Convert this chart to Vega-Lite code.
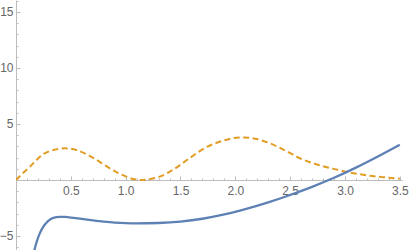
{
  "$schema": "https://vega.github.io/schema/vega-lite/v6.json",
  "autosize": {"type": "none"},
  "padding": {"left": 16, "top": 0, "right": 8, "bottom": 0},
  "width": 386,
  "height": 250,
  "background": "white",
  "config": {"view": {"stroke": null}},
  "datasets": {
    "blue": [
      {"x": 0.16, "y": -6.6}, {"x": 0.18, "y": -5.8}, {"x": 0.20, "y": -5.18}, {"x": 0.22, "y": -4.70},
      {"x": 0.24, "y": -4.32}, {"x": 0.26, "y": -4.02}, {"x": 0.28, "y": -3.79}, {"x": 0.30, "y": -3.61},
      {"x": 0.33, "y": -3.42}, {"x": 0.37, "y": -3.31}, {"x": 0.40, "y": -3.29}, {"x": 0.45, "y": -3.30},
      {"x": 0.5, "y": -3.35}, {"x": 0.6, "y": -3.48}, {"x": 0.7, "y": -3.60}, {"x": 0.8, "y": -3.71},
      {"x": 0.9, "y": -3.80}, {"x": 1.0, "y": -3.855}, {"x": 1.1, "y": -3.88}, {"x": 1.3, "y": -3.84},
      {"x": 1.5, "y": -3.71}, {"x": 1.7, "y": -3.46}, {"x": 1.9, "y": -3.08}, {"x": 2.1, "y": -2.58},
      {"x": 2.3, "y": -2.0}, {"x": 2.5, "y": -1.34}, {"x": 2.7, "y": -0.615}, {"x": 2.9, "y": 0.195},
      {"x": 3.1, "y": 1.105}, {"x": 3.3, "y": 2.10}, {"x": 3.5, "y": 3.15}
    ],
    "orange": [
      {"x": 0.0, "y": 0.0}, {"x": 0.067, "y": 0.65}, {"x": 0.127, "y": 1.19}, {"x": 0.25, "y": 2.32},
      {"x": 0.35, "y": 2.7}, {"x": 0.445, "y": 2.83}, {"x": 0.55, "y": 2.68}, {"x": 0.70, "y": 2.0},
      {"x": 0.855, "y": 1.04}, {"x": 1.006, "y": 0.3}, {"x": 1.08, "y": 0.06}, {"x": 1.15, "y": 0.0},
      {"x": 1.22, "y": 0.07}, {"x": 1.31, "y": 0.3}, {"x": 1.43, "y": 0.9}, {"x": 1.58, "y": 1.93},
      {"x": 1.73, "y": 2.9}, {"x": 1.885, "y": 3.5}, {"x": 1.97, "y": 3.72}, {"x": 2.07, "y": 3.8},
      {"x": 2.18, "y": 3.68}, {"x": 2.31, "y": 3.3}, {"x": 2.46, "y": 2.6}, {"x": 2.61, "y": 1.85},
      {"x": 2.76, "y": 1.34}, {"x": 2.915, "y": 0.95}, {"x": 3.006, "y": 0.74}, {"x": 3.22, "y": 0.39},
      {"x": 3.35, "y": 0.25}, {"x": 3.5, "y": 0.12}
    ]
  },
  "resolve": {"axis": {"x": "independent", "y": "independent"}},
  "layer": [
    {
      "data": {"name": "orange"},
      "mark": {"type": "line", "interpolate": "monotone", "color": "#E19C24", "strokeWidth": 2, "strokeDash": [6, 3.5], "clip": true},
      "encoding": {
        "x": {"field": "x", "type": "quantitative", "scale": {"domain": [0, 3.52], "nice": false, "zero": false},
          "axis": {"orient": "bottom", "offset": -70, "values": [0.1,0.2,0.3,0.4,0.6,0.7,0.8,0.9,1.1,1.2,1.3,1.4,1.6,1.7,1.8,1.9,2.1,2.2,2.3,2.4,2.6,2.7,2.8,2.9,3.1,3.2,3.3,3.4],
            "labels": false, "domain": false, "grid": false, "title": null, "tickSize": -2, "tickColor": "#bdbdbd", "tickWidth": 1}},
        "y": {"field": "y", "type": "quantitative", "scale": {"domain": [-6.25, 16.07], "nice": false, "zero": false},
          "axis": {"orient": "left", "offset": 0, "values": [-6,-4,-3,-2,-1,1,2,3,4,6,7,8,9,11,12,13,14,16],
            "labels": false, "domain": false, "grid": false, "title": null, "tickSize": -2, "tickColor": "#bdbdbd", "tickWidth": 1}}
      }
    },
    {
      "data": {"name": "blue"},
      "mark": {"type": "line", "interpolate": "monotone", "color": "#5E81B5", "strokeWidth": 2.3, "clip": true},
      "encoding": {
        "x": {"field": "x", "type": "quantitative",
          "axis": {"orient": "bottom", "offset": -70, "values": [0.5, 1.0, 1.5, 2.0, 2.5, 3.0, 3.5], "format": ".1f",
            "domain": true, "domainColor": "#bdbdbd", "domainWidth": 1, "grid": false, "title": null,
            "tickSize": -4, "tickColor": "#bdbdbd", "tickWidth": 1, "labelPadding": 9,
            "labelFont": "Liberation Sans", "labelFontSize": 12, "labelColor": "#666666"}},
        "y": {"field": "y", "type": "quantitative",
          "axis": {"orient": "left", "offset": 0, "values": [-5, 5, 10, 15], "format": "d",
            "domain": true, "domainColor": "#bdbdbd", "domainWidth": 1, "grid": false, "title": null,
            "tickSize": -4, "tickColor": "#bdbdbd", "tickWidth": 1, "labelPadding": 7,
            "labelFont": "Liberation Sans", "labelFontSize": 12, "labelColor": "#666666"}}
      }
    }
  ]
}
